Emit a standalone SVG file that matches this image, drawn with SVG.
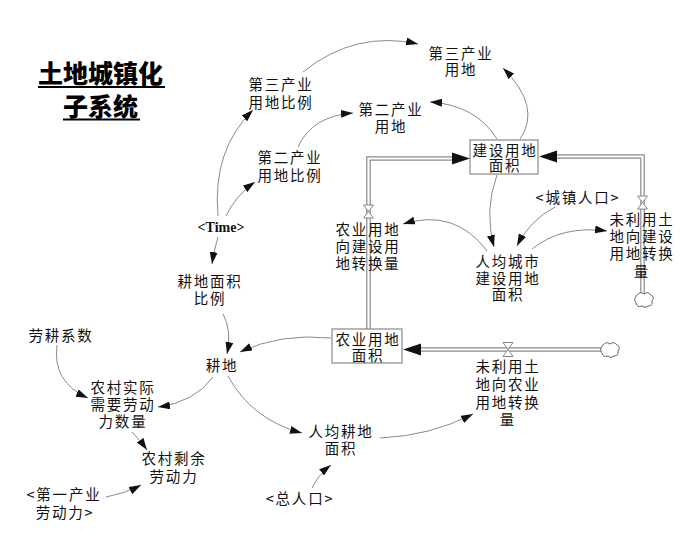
<svg xmlns="http://www.w3.org/2000/svg" width="700" height="560" viewBox="0 0 700 560">
<defs>
<style>
.t{font-family:"Noto Sans CJK SC","Liberation Sans",sans-serif;font-size:14.5px;letter-spacing:1.8px;fill:#111;text-anchor:middle}
.tm{font-family:"Liberation Serif","Noto Sans CJK SC",serif;font-size:14px;font-weight:bold;fill:#111;text-anchor:middle}
.title{font-family:"Noto Sans CJK SC",sans-serif;font-size:25px;font-weight:900;fill:#000}
.c{fill:none;stroke:#8a8a8a;stroke-width:1}
.po{fill:none;stroke:#8a8a8a;stroke-width:4.6}
.pi{fill:none;stroke:#fff;stroke-width:2.2}
.box{fill:#fff;stroke:#888;stroke-width:1.2}
.valve{fill:#fff;stroke:#888;stroke-width:1}
.cloud{fill:#fff;stroke:#666;stroke-width:1}
.head{fill:#111}
</style>
<marker id="a" markerUnits="userSpaceOnUse" markerWidth="13" markerHeight="9" refX="12" refY="4" orient="auto">
<path d="M0,0 L12,4 L0,8 Z" fill="#111"/>
</marker>
</defs>
<rect width="700" height="560" fill="#fff"/>

<g id="title">
<text class="title" x="38" y="83">土地城镇化</text>
<line x1="38" y1="87" x2="165" y2="87" stroke="#000" stroke-width="2"/>
<text class="title" x="63" y="116">子系统</text>
<line x1="63" y1="119.5" x2="140" y2="119.5" stroke="#000" stroke-width="2"/>
</g>

<g id="flows">
<path class="po" d="M368.5,329 V158.5 H453"/>
<path class="pi" d="M368.5,329 V158.5 H453"/>
<polygon class="head" points="452,152.5 470,158.5 452,164.5"/>
<path class="po" d="M642.5,294 V156.5 H556"/>
<path class="pi" d="M642.5,294 V156.5 H556"/>
<polygon class="head" points="557,150.5 539,156.5 557,162.5"/>
<path class="po" d="M601,349.5 H420"/>
<path class="pi" d="M601,349.5 H420"/>
<polygon class="head" points="421,343.5 403,349.5 421,355.5"/>
</g>

<g id="connectors">
<path class="c" marker-end="url(#a)" d="M218,216 Q212,150 253,110"/>
<path class="c" marker-end="url(#a)" d="M226,216 Q236,195 255,182"/>
<path class="c" marker-end="url(#a)" d="M303,72 Q355,30 418,44"/>
<path class="c" marker-end="url(#a)" d="M298,147 Q312,116 353,113"/>
<path class="c" marker-end="url(#a)" d="M520,139 Q542,107 503,68"/>
<path class="c" marker-end="url(#a)" d="M497,139 Q476,105 430,102"/>
<path class="c" marker-end="url(#a)" d="M497,175 Q484,210 494,247"/>
<path class="c" marker-end="url(#a)" d="M555,207 Q530,220 517,246"/>
<path class="c" marker-end="url(#a)" d="M487,251 Q455,208 403,224"/>
<path class="c" marker-end="url(#a)" d="M532,249 Q562,225 607,231"/>
<path class="c" marker-end="url(#a)" d="M331,338 Q280,333 240,352"/>
<path class="c" marker-end="url(#a)" d="M223,314 Q232,330 227,354"/>
<path class="c" marker-end="url(#a)" d="M218,237 Q214,250 212,264"/>
<path class="c" marker-end="url(#a)" d="M57,345 Q52,382 88,398"/>
<path class="c" marker-end="url(#a)" d="M213,377 Q195,402 158,407"/>
<path class="c" marker-end="url(#a)" d="M228,376 Q252,420 302,433"/>
<path class="c" marker-end="url(#a)" d="M132,432 Q140,440 147,450"/>
<path class="c" marker-end="url(#a)" d="M106,497 Q124,494 141,485"/>
<path class="c" marker-end="url(#a)" d="M312,488 Q318,475 331,465"/>
<path class="c" marker-end="url(#a)" d="M380,438 Q430,436 473,414"/>
</g>

<g id="valve-agri-to-build"><path class="valve" d="M363.5,205 H373.5 L368.5,211.5 L373.5,218 H363.5 L368.5,211.5 Z"/></g>
<g id="valve-unused-to-build"><path class="valve" d="M637.5,196 H647.5 L642.5,202.5 L647.5,209 H637.5 L642.5,202.5 Z"/></g>
<g id="valve-unused-to-agri"><path class="valve" d="M503,342.5 H513 L508,349.5 L513,356.5 H503 L508,349.5 Z"/></g>

<g id="cloud1"><path class="cloud" d="M603,345 q3,-4 7,-1 q4,-3 7,1 q4,2 1,6 q1,5 -4,5 q-3,3 -6,0 q-5,2 -6,-3 q-3,-4 1,-8 Z"/></g>
<g id="cloud2"><path class="cloud" d="M637,295 q3,-4 7,-1 q4,-3 7,1 q4,2 1,6 q1,5 -4,5 q-3,3 -6,0 q-5,2 -6,-3 q-3,-4 1,-8 Z"/></g>

<g id="n-build-area">
<rect class="box" x="470" y="140" width="68" height="34"/>
<text class="t"><tspan x="505" y="156">建设用地</tspan><tspan x="505" y="171">面积</tspan></text>
</g>
<g id="n-agri-area">
<rect class="box" x="332" y="329" width="70" height="34"/>
<text class="t"><tspan x="368" y="345">农业用地</tspan><tspan x="368" y="361">面积</tspan></text>
</g>
<g id="n-tertiary-ratio">
<text class="t"><tspan x="281" y="90">第三产业</tspan><tspan x="281" y="108">用地比例</tspan></text>
</g>
<g id="n-secondary-ratio">
<text class="t"><tspan x="290" y="163">第二产业</tspan><tspan x="290" y="181">用地比例</tspan></text>
</g>
<g id="n-time"><text class="tm" x="221" y="232">&lt;Time&gt;</text></g>
<g id="n-cult-ratio">
<text class="t"><tspan x="210" y="287">耕地面积</tspan><tspan x="210" y="304">比例</tspan></text>
</g>
<g id="n-cult"><text class="t" x="222" y="371">耕地</text></g>
<g id="n-labor-coef"><text class="t" x="61" y="341">劳耕系数</text></g>
<g id="n-rural-need">
<text class="t"><tspan x="123" y="393">农村实际</tspan><tspan x="123" y="410">需要劳动</tspan><tspan x="123" y="427">力数量</tspan></text>
</g>
<g id="n-rural-surplus">
<text class="t"><tspan x="174" y="464">农村剩余</tspan><tspan x="174" y="482">劳动力</tspan></text>
</g>
<g id="n-primary-labor">
<text class="t"><tspan x="64" y="500">&lt;第一产业</tspan><tspan x="65" y="518">劳动力&gt;</tspan></text>
</g>
<g id="n-total-pop"><text class="t" x="300" y="504">&lt;总人口&gt;</text></g>
<g id="n-cult-per-capita">
<text class="t"><tspan x="341" y="437">人均耕地</tspan><tspan x="341" y="454">面积</tspan></text>
</g>
<g id="n-unused-to-agri">
<text class="t"><tspan x="508" y="372">未利用土</tspan><tspan x="508" y="390">地向农业</tspan><tspan x="508" y="408">用地转换</tspan><tspan x="508" y="425">量</tspan></text>
</g>
<g id="n-agri-to-build">
<text class="t"><tspan x="368" y="235">农业用地</tspan><tspan x="368" y="252">向建设用</tspan><tspan x="368" y="269">地转换量</tspan></text>
</g>
<g id="n-urban-per-capita">
<text class="t"><tspan x="508" y="267">人均城市</tspan><tspan x="508" y="284">建设用地</tspan><tspan x="508" y="300">面积</tspan></text>
</g>
<g id="n-urban-pop"><text class="t" x="578" y="203">&lt;城镇人口&gt;</text></g>
<g id="n-unused-to-build">
<text class="t"><tspan x="642" y="225">未利用土</tspan><tspan x="642" y="242">地向建设</tspan><tspan x="642" y="259">用地转换</tspan><tspan x="642" y="277">量</tspan></text>
</g>
<g id="n-tertiary-land">
<text class="t"><tspan x="461" y="59">第三产业</tspan><tspan x="461" y="75">用地</tspan></text>
</g>
<g id="n-secondary-land">
<text class="t"><tspan x="391" y="115">第二产业</tspan><tspan x="391" y="132">用地</tspan></text>
</g>
</svg>
